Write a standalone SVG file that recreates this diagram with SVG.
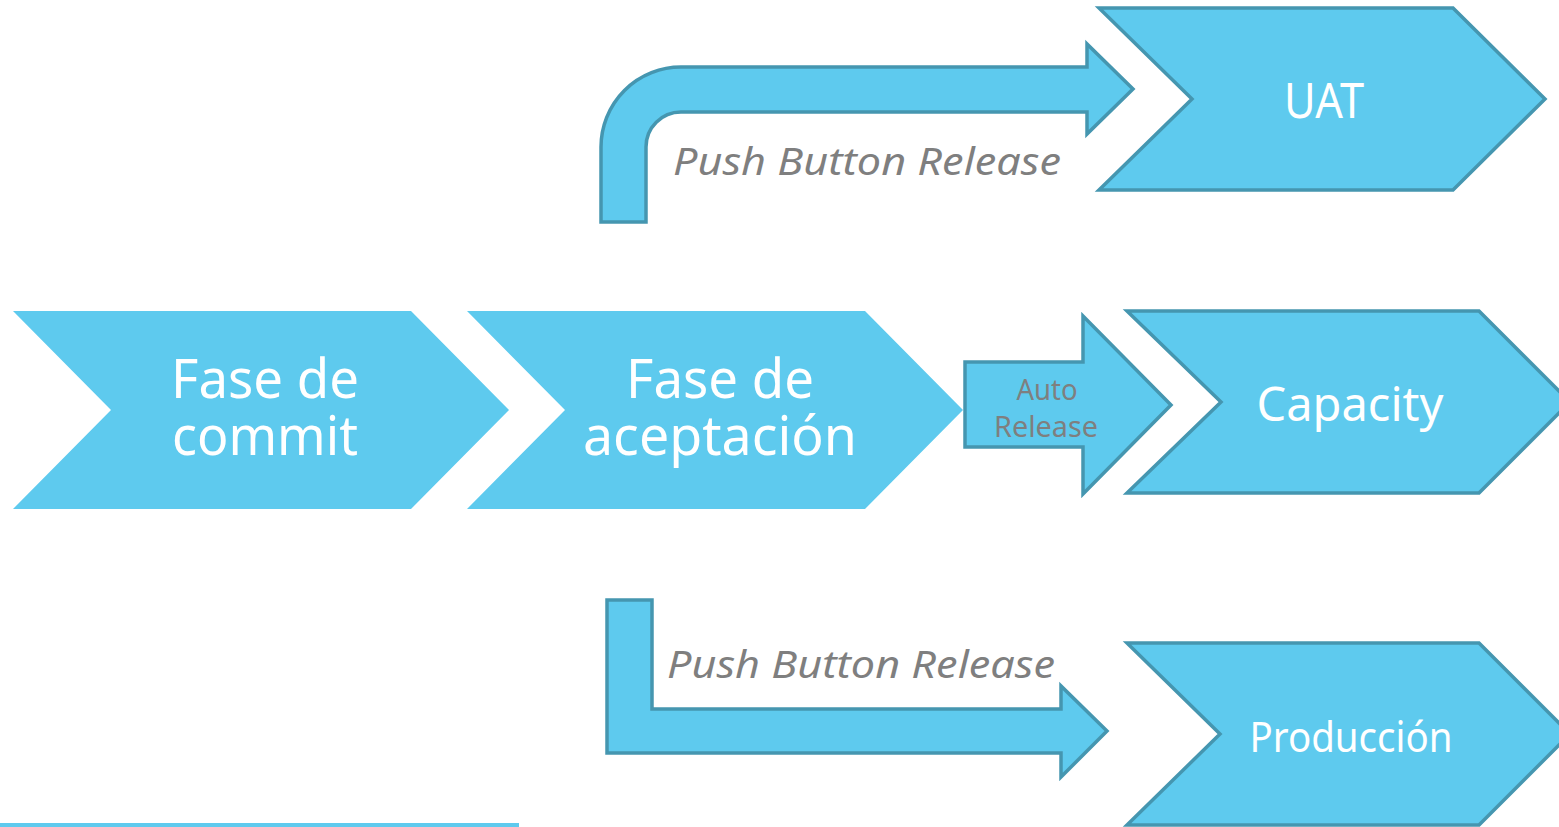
<svg xmlns="http://www.w3.org/2000/svg" width="1559" height="827" viewBox="0 0 1559 827">
<style>
.plain{fill:#5ECAEE;}
.out{fill:#5ECAEE;stroke:#4596B0;stroke-width:3.5;stroke-linejoin:miter;}
.lbl{font-family:"Noto Sans","DejaVu Sans",sans-serif;fill:#FFFFFF;text-anchor:middle;}
.gray{font-family:"Noto Sans","DejaVu Sans",sans-serif;fill:#7F7F7F;}
</style>
<rect width="1559" height="827" fill="#FFFFFF"/>
<g id="connectors">
  <g id="push-uat">
    <path class="out" d="M601,222 V147 A80,80 0 0 1 681,67 H1087 V44 L1133,89 L1087,134 V112 H681 A35,35 0 0 0 646,147 V222 Z"/>
    <text class="gray" x="673" y="175" font-size="38" font-style="italic" textLength="388" lengthAdjust="spacingAndGlyphs">Push Button Release</text>
  </g>
  <g id="auto-capacity">
    <path class="out" d="M965,362 H1083 V316 L1171,405 L1083,494 V447 H965 Z"/>
    <text class="gray" font-size="29" text-anchor="middle"><tspan x="1047" y="400" textLength="61" lengthAdjust="spacingAndGlyphs">Auto</tspan><tspan x="1046" y="437" textLength="104" lengthAdjust="spacingAndGlyphs">Release</tspan></text>
  </g>
  <g id="push-prod">
    <path class="out" d="M607,600 H652 V709 H1061 V686 L1107,731 L1061,777 V753 H607 Z"/>
    <text class="gray" x="667" y="678" font-size="38" font-style="italic" textLength="388" lengthAdjust="spacingAndGlyphs">Push Button Release</text>
  </g>
</g>
<g id="commit">
  <path class="plain" d="M13,311 H411 L509,410 L411,509 H13 L111,410 Z"/>
  <text class="lbl" font-size="54"><tspan x="265" y="398" textLength="188" lengthAdjust="spacingAndGlyphs">Fase de</tspan><tspan x="265" y="455" textLength="186" lengthAdjust="spacingAndGlyphs">commit</tspan></text>
</g>
<g id="aceptacion">
  <path class="plain" d="M467,311 H865 L963,410 L865,509 H467 L565,410 Z"/>
  <text class="lbl" font-size="54"><tspan x="720" y="398" textLength="188" lengthAdjust="spacingAndGlyphs">Fase de</tspan><tspan x="720" y="455" textLength="274" lengthAdjust="spacingAndGlyphs">aceptación</tspan></text>
</g>
<g id="uat">
  <path class="out" d="M1099,8 H1453 L1545,99 L1453,190 H1099 L1192,99 Z"/>
  <text class="lbl" x="1324" y="118" font-size="49" textLength="80" lengthAdjust="spacingAndGlyphs">UAT</text>
</g>
<g id="capacity">
  <path class="out" d="M1127,311 H1479 L1570,402 L1479,493 H1127 L1221,402 Z"/>
  <text class="lbl" x="1350" y="421" font-size="47" textLength="187" lengthAdjust="spacingAndGlyphs">Capacity</text>
</g>
<g id="produccion">
  <path class="out" d="M1127,643 H1479 L1570,734 L1479,825 H1127 L1220,734 Z"/>
  <text class="lbl" x="1351" y="752" font-size="42" textLength="203" lengthAdjust="spacingAndGlyphs">Producción</text>
</g>
<rect x="0" y="823" width="519" height="4" fill="#5ECAEE"/>
</svg>
